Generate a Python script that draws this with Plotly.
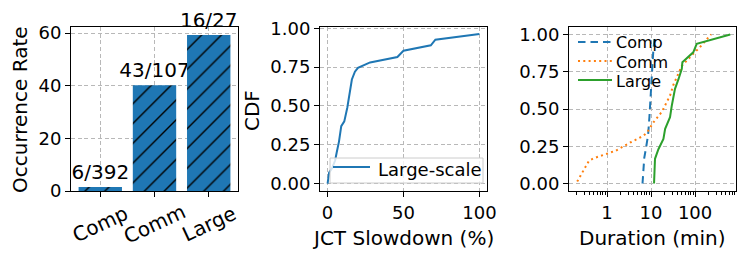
import plotly.graph_objects as go

# ---------------- data ----------------
categories = ["Comp", "Comm", "Large"]
numerators = [6, 43, 16]
denominators = [392, 107, 27]
rates = [n / d * 100 for n, d in zip(numerators, denominators)]
bar_labels = [f"{n}/{d}" for n, d in zip(numerators, denominators)]
rate_ticks = [0, 20, 40, 60]

slow_x = [0, 1, 3, 5, 6, 7.5, 9, 11, 13, 14.5, 16, 18, 20, 28, 46, 49, 50, 68, 71, 100]
slow_y = [0, 0.07, 0.1, 0.15, 0.2, 0.27, 0.37, 0.40, 0.49, 0.59, 0.67, 0.72, 0.745,
          0.78, 0.815, 0.845, 0.855, 0.89, 0.926, 0.963]
slow_ticks = [0, 50, 100]

comp_x = [6.4, 6.6, 7.0, 7.8, 8.6, 9.2, 9.8, 10.4, 11.2, 12.2]
comp_y = [0, 0.1, 0.17, 0.25, 0.33, 0.45, 0.6, 0.75, 0.88, 1.0]
comm_x = [0.21, 0.25, 0.3, 0.39, 0.5, 0.78, 1.57, 3.46, 6.7, 8.2, 11.3, 17.5, 27, 32,
          42, 50, 91, 129, 200, 230]
comm_y = [0.013, 0.054, 0.1, 0.154, 0.17, 0.188, 0.22, 0.277, 0.32, 0.344, 0.41, 0.48,
          0.59, 0.66, 0.736, 0.79, 0.87, 0.915, 0.98, 1.0]
large_x = [11.7, 12.0, 12.3, 14.7, 19.1, 20.9, 27, 29.5, 35, 42, 50, 51.5, 91, 109, 630]
large_y = [0, 0.1, 0.166, 0.23, 0.30, 0.367, 0.445, 0.52, 0.635, 0.70, 0.77, 0.814,
           0.88, 0.937, 1.0]
dur_ticks = [1, 10, 100]
dur_labels = ["1", "10", "100"]
dur_minor = [0.2, 0.3, 0.4, 0.5, 0.6, 0.7, 0.8, 0.9, 2, 3, 4, 5, 6, 7, 8, 9,
             20, 30, 40, 50, 60, 70, 80, 90, 200, 300, 400, 500, 600, 700, 800]
cdf_ticks = [0, 0.25, 0.5, 0.75, 1.0]

# ---------------- style ----------------
W, H = 747, 260
FONT = "DejaVu Sans"
BLUE, ORANGE, GREEN = "#1f77b4", "#ff7f0e", "#2ca02c"
GRID = "#b8b8b8"
GRID_DASH = "4px,2.7px"
DASH_COMP = "7.5px,5px"
DASH_COMM = "2px,3.3px"

def px_x(p):
    return p / W

def px_y(p):
    return 1 - p / H

ydom = [px_y(191), px_y(27)]

fig = go.Figure()

fig.add_trace(go.Bar(
    x=categories, y=rates, width=0.8, text=bar_labels, textposition="outside",
    cliponaxis=False, constraintext="none",
    textfont=dict(family=FONT, size=20, color="black"),
    marker=dict(color=BLUE, line=dict(width=0),
                pattern=dict(shape="/", fgcolor="black", bgcolor=BLUE, size=14, solidity=0.1)),
    xaxis="x", yaxis="y", showlegend=False,
))

fig.add_trace(go.Scatter(
    x=slow_x, y=slow_y, mode="lines", name="Large-scale",
    line=dict(color=BLUE, width=2), xaxis="x2", yaxis="y2", showlegend=False,
))

series3 = [
    ("Comp", comp_x, comp_y, BLUE, DASH_COMP),
    ("Comm", comm_x, comm_y, ORANGE, DASH_COMM),
    ("Large", large_x, large_y, GREEN, "solid"),
]
for name, xs, ys, col, dash in series3:
    fig.add_trace(go.Scatter(
        x=xs, y=ys, mode="lines", name=name,
        line=dict(color=col, width=2, dash=dash), xaxis="x3", yaxis="y3", showlegend=False,
    ))

axis_common = dict(
    showline=True, linecolor="black", linewidth=1, mirror=True,
    ticks="outside", ticklen=5, tickwidth=1, tickcolor="black",
    showgrid=True, gridcolor=GRID, griddash=GRID_DASH, gridwidth=1,
    zeroline=False, automargin=False,
    tickfont=dict(family=FONT, size=18, color="black"),
)

fig.update_layout(
    template="none",
    width=W, height=H, margin=dict(l=0, r=0, t=0, b=0, pad=0),
    paper_bgcolor="white", plot_bgcolor="white",
    font=dict(family=FONT, color="black"),
    showlegend=False,
    xaxis=dict(domain=[px_x(71), px_x(238)], anchor="y", type="category",
               range=[-0.54, 2.54], showticklabels=False, **axis_common),
    yaxis=dict(domain=ydom, anchor="x", range=[0, 62.3], tickvals=rate_ticks, **axis_common),
    xaxis2=dict(domain=[px_x(320), px_x(487)], anchor="y2", range=[-5, 105],
                tickvals=slow_ticks, **axis_common),
    yaxis2=dict(domain=ydom, anchor="x2", range=[-0.048, 1.008], tickvals=cdf_ticks,
                tickformat=".2f", **axis_common),
    xaxis3=dict(domain=[px_x(569), px_x(736)], anchor="y3", type="log",
                range=[-0.864, 2.93], tickvals=dur_ticks, ticktext=dur_labels,
                minor=dict(tickmode="array", tickvals=dur_minor, ticks="outside",
                           ticklen=3, tickcolor="black", showgrid=False),
                **axis_common),
    yaxis3=dict(domain=ydom, anchor="x3", range=[-0.05, 1.05], tickvals=cdf_ticks,
                tickformat=".2f", **axis_common),
)

def txt(x, y, text, size, angle=0, xanchor="center", yanchor="middle"):
    return dict(x=px_x(x), y=px_y(y), xref="paper", yref="paper", text=text,
                textangle=angle, showarrow=False, xanchor=xanchor, yanchor=yanchor,
                font=dict(family=FONT, size=size, color="black"))

annotations = []
for c in categories:
    annotations.append(dict(x=c, xref="x", y=px_y(224), yref="paper", text=c,
                            showarrow=False, textangle=-25, xanchor="center", yanchor="middle",
                            font=dict(family=FONT, size=20, color="black")))
annotations += [
    txt(20, 110, "Occurrence Rate", 20, angle=-90),
    txt(252, 110, "CDF", 20, angle=-90),
    txt(403, 238, "JCT Slowdown (%)", 20),
    txt(652, 238, "Duration (min)", 20),
]

shapes = []
# legend of the JCT slowdown panel (framed box, lower right)
shapes.append(dict(type="rect", xref="paper", yref="paper", layer="above",
                   x0=px_x(330), x1=px_x(483), y0=px_y(183), y1=px_y(158),
                   fillcolor="rgba(255,255,255,0.8)", line=dict(color="#cccccc", width=1)))
shapes.append(dict(type="line", xref="paper", yref="paper", layer="above",
                   x0=px_x(333), x1=px_x(370), y0=px_y(167), y1=px_y(167),
                   line=dict(color=BLUE, width=2)))
annotations.append(txt(376, 169, "Large-scale", 18, xanchor="left"))

# legend of the duration panel (no frame, upper left)
for i, (name, xs, ys, col, dash) in enumerate(series3):
    yy = 42 + i * 19
    shapes.append(dict(type="line", xref="paper", yref="paper", layer="above",
                       x0=px_x(578), x1=px_x(612), y0=px_y(yy), y1=px_y(yy),
                       line=dict(color=col, width=2, dash=dash)))
    annotations.append(txt(614, yy + 1, name, 16, xanchor="left"))

fig.update_layout(annotations=annotations, shapes=shapes)

fig.write_html("out.html", config={"displayModeBar": False},
               post_script="document.body.style.margin='0';document.body.style.overflow='hidden';")
